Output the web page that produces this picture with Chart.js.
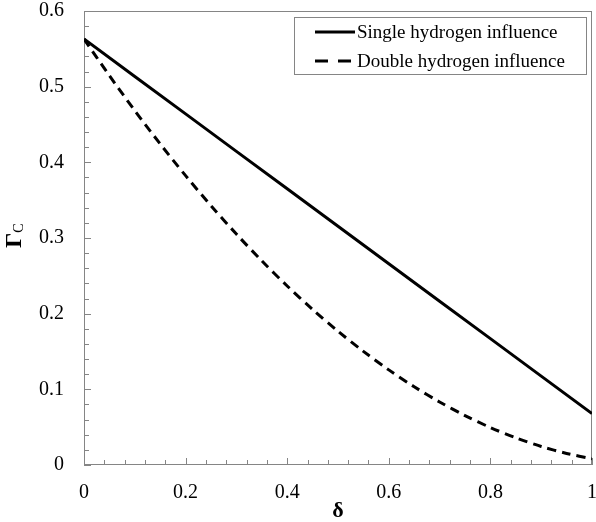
<!DOCTYPE html>
<html>
<head>
<meta charset="utf-8">
<script src="https://cdn.jsdelivr.net/npm/chart.js@4.4.1/dist/chart.umd.min.js"></script>
<style>
  html, body { margin: 0; padding: 0; background: #fff; }
  #wrap { width: 596px; height: 522px; }
</style>
</head>
<body>
<div id="wrap"><canvas id="gammaChart" width="596" height="522"></canvas></div>
<script>
// delta values and the two influence curves
const singleDelta = [0, 0.1, 0.2, 0.3, 0.4, 0.5, 0.6, 0.7, 0.8, 0.9, 1.0];
const singleGamma = [0.563, 0.5135, 0.464, 0.4145, 0.365, 0.3155, 0.266, 0.2165, 0.167, 0.1175, 0.068];

const doubleDelta = [0, 0.05, 0.1, 0.15, 0.2, 0.25, 0.3, 0.35, 0.4, 0.45, 0.5,
                     0.55, 0.6, 0.65, 0.7, 0.75, 0.8, 0.85, 0.9, 0.95, 1.0];
const doubleGamma = [0.563, 0.5146, 0.4683, 0.4243, 0.3824, 0.3427, 0.3052, 0.2698, 0.2366, 0.2056, 0.1768,
                     0.1502, 0.1257, 0.1034, 0.0833, 0.0653, 0.0495, 0.0359, 0.0245, 0.0153, 0.0082];

const xTicks = [0, 0.2, 0.4, 0.6, 0.8, 1];
const xTickLabels = ['0', '0.2', '0.4', '0.6', '0.8', '1'];
const yTicks = [0, 0.1, 0.2, 0.3, 0.4, 0.5, 0.6];
const yTickLabels = ['0', '0.1', '0.2', '0.3', '0.4', '0.5', '0.6'];

const seriesNames = ['Single hydrogen influence', 'Double hydrogen influence'];

const SERIF = '"Liberation Serif", "Times New Roman", serif';
const AXIS_GREY = '#858585';

function toPoints(xs, ys) {
    return xs.map((x, i) => ({ x: x, y: ys[i] }));
}

// frame + inward major/minor ticks, axis titles and the boxed legend
const frameTicks = {
    id: 'frameTicks',
    beforeDatasetsDraw(chart) {
        const { ctx, chartArea: a, scales } = chart;
        ctx.save();
        ctx.strokeStyle = AXIS_GREY;
        ctx.lineWidth = 1;
        ctx.strokeRect(a.left + 0.5, a.top + 0.5, a.right - a.left - 1, a.bottom - a.top - 1);

        ctx.beginPath();
        for (let i = 0; i <= 30; i++) {
            const py = Math.round(scales.y.getPixelForValue(i * 0.02)) + 0.5;
            const len = i % 5 === 0 ? 7 : 5;
            ctx.moveTo(a.left, py);
            ctx.lineTo(a.left + len, py);
        }
        for (let i = 0; i <= 25; i++) {
            const px = Math.round(scales.x.getPixelForValue(i * 0.04)) + 0.5;
            const len = i % 5 === 0 ? 7 : 5;
            ctx.moveTo(px, a.bottom);
            ctx.lineTo(px, a.bottom - len);
        }
        ctx.stroke();
        ctx.restore();
    },
    afterDraw(chart) {
        const { ctx, chartArea: a } = chart;
        ctx.save();

        // axis titles
        ctx.fillStyle = '#000';
        ctx.font = 'bold 22px ' + SERIF;
        ctx.textAlign = 'center';
        ctx.textBaseline = 'middle';
        ctx.fillText('\u03b4', (a.left + a.right) / 2, 511);

        ctx.translate(13, 240);
        ctx.rotate(-Math.PI / 2);
        ctx.textAlign = 'left';
        ctx.textBaseline = 'alphabetic';
        ctx.font = 'bold 24px ' + SERIF;
        ctx.fillText('\u0393', -8, 8);
        const gw = ctx.measureText('\u0393').width;
        ctx.font = '14px ' + SERIF;
        ctx.fillText('C', -8 + gw, 10);
        ctx.restore();

        // legend box
        ctx.save();
        const bx = 294, by = 17, bw = 293, bh = 58;
        ctx.fillStyle = '#fff';
        ctx.fillRect(bx, by, bw, bh);
        ctx.strokeStyle = AXIS_GREY;
        ctx.lineWidth = 1;
        ctx.strokeRect(bx + 0.5, by + 0.5, bw - 1, bh - 1);

        const rows = [32, 61];
        const dashes = [[], [13, 10]];
        chart.data.datasets.forEach((ds, i) => {
            ctx.strokeStyle = '#000';
            ctx.lineWidth = 3;
            ctx.setLineDash(dashes[i]);
            ctx.beginPath();
            ctx.moveTo(315, rows[i]);
            ctx.lineTo(355, rows[i]);
            ctx.stroke();
            ctx.setLineDash([]);
            ctx.fillStyle = '#000';
            ctx.font = '19px ' + SERIF;
            ctx.textAlign = 'left';
            ctx.textBaseline = 'middle';
            ctx.fillText(ds.label, 357, rows[i] + 1);
        });
        ctx.restore();
    }
};

new Chart(document.getElementById('gammaChart'), {
    type: 'line',
    data: {
        datasets: [{
            label: seriesNames[0],
            data: toPoints(singleDelta, singleGamma),
            borderColor: '#000',
            borderWidth: 3,
            pointRadius: 0,
            tension: 0
        }, {
            label: seriesNames[1],
            data: toPoints(doubleDelta, doubleGamma),
            borderColor: '#000',
            borderWidth: 3,
            borderDash: [9, 6],
            pointRadius: 0,
            tension: 0.3
        }]
    },
    options: {
        responsive: false,
        animation: false,
        layout: {
            padding: { top: 11, right: 4, left: 0, bottom: 0 }
        },
        plugins: {
            legend: { display: false },
            tooltip: { enabled: false }
        },
        scales: {
            x: {
                type: 'linear',
                min: 0,
                max: 1,
                afterBuildTicks: (s) => { s.ticks = xTicks.map(v => ({ value: v })); },
                afterFit: (s) => {
                    s.height = 57;
                    s.paddingLeft = 0;
                    s.paddingRight = 0;
                },
                grid: { display: false, drawTicks: false },
                border: { display: false },
                ticks: {
                    padding: 16,
                    maxRotation: 0,
                    autoSkip: false,
                    color: '#000',
                    font: { family: SERIF, size: 20 },
                    callback: (v, i) => xTickLabels[i]
                }
            },
            y: {
                type: 'linear',
                min: 0,
                max: 0.6,
                afterBuildTicks: (s) => { s.ticks = yTicks.map(v => ({ value: v })); },
                afterFit: (s) => {
                    s.width = 84;
                    s.paddingTop = 0;
                    s.paddingBottom = 0;
                },
                grid: { display: false, drawTicks: false },
                border: { display: false },
                ticks: {
                    padding: 20,
                    autoSkip: false,
                    color: '#000',
                    font: { family: SERIF, size: 20 },
                    callback: (v, i) => yTickLabels[i]
                }
            }
        }
    },
    plugins: [frameTicks]
});
</script>
</body>
</html>
